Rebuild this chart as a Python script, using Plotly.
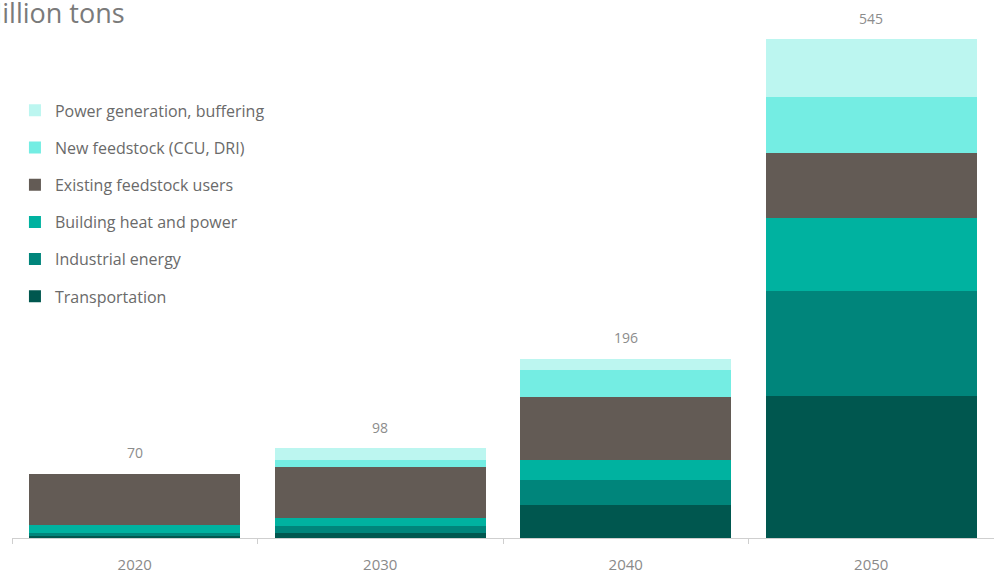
import plotly.graph_objects as go

years = ["2020", "2030", "2040", "2050"]
transportation = [2, 6, 36, 155]
industrial = [4, 7, 27, 115]
building = [8, 9, 22, 80]
existing = [56, 56, 69, 70]
new_feedstock = [0, 7, 29, 62]
power_gen = [0, 13, 13, 63]

series = [
    ("Transportation", transportation, "#00574f"),
    ("Industrial energy", industrial, "#00857b"),
    ("Building heat and power", building, "#00b2a0"),
    ("Existing feedstock users", existing, "#635b55"),
    ("New feedstock (CCU, DRI)", new_feedstock, "#74ede3"),
    ("Power generation, buffering", power_gen, "#bcf6f0"),
]

totals = [sum(v) for v in zip(*[s[1] for s in series])]

fig = go.Figure()
n = len(series)
for i, (name, vals, color) in enumerate(series):
    fig.add_trace(go.Bar(
        x=years, y=vals, name=name, marker=dict(color=color, line=dict(width=0)),
        legendgroup=str(i), legendrank=n - i, hoverinfo="skip",
    ))

for idx, tot in enumerate(totals):
    fig.add_annotation(x=idx, y=tot, text=str(tot), showarrow=False,
                       yanchor="middle", yshift=21,
                       font=dict(size=14, color="#8c8c8c"))

fig.add_annotation(xref="paper", yref="paper", x=-0.037, y=1.0, xanchor="left",
                   yanchor="top", yshift=18, text="Million tons", showarrow=False,
                   font=dict(size=27, color="#7a7a7a"))

fig.update_layout(
    width=994, height=581,
    margin=dict(l=12, r=0, t=10, b=43),
    barmode="stack", bargap=0.14,
    paper_bgcolor="white", plot_bgcolor="white",
    font=dict(family="Open Sans, Noto Sans, sans-serif", color="#707070"),
    showlegend=True,
    legend=dict(x=0.003, y=0.842, xanchor="left", yanchor="top",
                traceorder="grouped", tracegroupgap=13.4,
                font=dict(size=16, color="#6a6a6a"), bgcolor="rgba(0,0,0,0)"),
    xaxis=dict(type="category", range=[-0.5, 3.5], showline=True,
               linecolor="#cfcfcf", linewidth=1,
               ticks="outside", tickson="boundaries", ticklen=5, tickcolor="#cfcfcf",
               ticklabelstandoff=13,
               tickfont=dict(size=15, color="#8a8a8a"), showgrid=False),
    yaxis=dict(visible=False, range=[0, 576.7], showgrid=False),
)

fig.write_html("out.html", config={"displayModeBar": False},
               post_script="document.body.style.margin='0';")
